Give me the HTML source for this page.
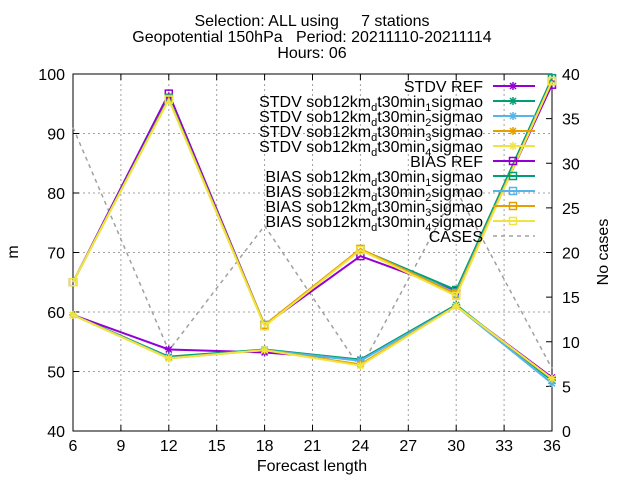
<!DOCTYPE html>
<html><head><meta charset="utf-8"><style>
body{margin:0;background:#fff}
svg{font-family:"Liberation Sans",sans-serif}
</style></head><body>
<svg id="chart" width="640" height="480" xmlns="http://www.w3.org/2000/svg">
<g font-size="16" text-anchor="middle" fill="#000">
<text x="312" y="26" xml:space="preserve">Selection: ALL using     7 stations</text>
<text x="312" y="42" xml:space="preserve">Geopotential 150hPa   Period: 20211110-20211114</text>
<text x="312" y="58">Hours: 06</text>
</g>
<g id="grid"></g>
<g id="axes"></g>
<g id="series"></g>
<g id="legend"></g>
<text x="18" y="252" font-size="16" text-anchor="middle" transform="rotate(-90 18 252)">m</text>
<text x="608" y="252" font-size="16" text-anchor="middle" transform="rotate(-90 608 252)">No cases</text>
<text x="312" y="471" font-size="16" text-anchor="middle">Forecast length</text>
</svg>
<script>
const xCats=[6,12,18,24,30,36];
const xTicks=[6,9,12,15,18,21,24,27,30,33,36];
const yTicks=[40,50,60,70,80,90,100];
const y2Ticks=[0,5,10,15,20,25,30,35,40];
const stdvRef=[59.5,53.7,53.2,52.0,61.0,49.0];
const stdv1=[59.5,52.5,53.7,52.0,61.2,48.5];
const stdv2=[59.5,52.3,53.6,51.8,61.0,48.0];
const stdv3=[59.5,52.2,53.6,51.2,61.0,48.8];
const stdv4=[59.5,52.2,53.6,51.0,61.0,48.8];
const biasRef=[65.0,96.7,57.8,69.4,63.5,98.2];
const bias1=[65.0,96.0,57.8,70.5,63.7,99.3];
const bias2=[65.0,95.8,57.8,70.5,63.2,98.8];
const bias3=[65.0,95.8,57.8,70.6,63.0,98.8];
const bias4=[65.0,95.7,57.6,70.4,62.7,98.8];
const cases=[34,9,23,7,27,7];
const labels=["STDV REF","STDV sob12km_d t30min_1 sigmao","STDV sob12km_d t30min_2 sigmao","STDV sob12km_d t30min_3 sigmao","STDV sob12km_d t30min_4 sigmao","BIAS REF","BIAS sob12km_d t30min_1 sigmao","BIAS sob12km_d t30min_2 sigmao","BIAS sob12km_d t30min_3 sigmao","BIAS sob12km_d t30min_4 sigmao"];
const colors=["#9400d3","#009e73","#56b4e9","#e69f00","#f0e442"];
const L=73,R=552,T=74,B=431;
const X=v=>L+(v-6)/30*(R-L);
const Y=v=>B-(v-40)/60*(B-T);
const Y2=v=>B-v/40*(B-T);
const NS="http://www.w3.org/2000/svg";
function mk(tag,attrs,parent){const e=document.createElementNS(NS,tag);for(const k in attrs)e.setAttribute(k,attrs[k]);parent.appendChild(e);return e;}
const grid=document.getElementById('grid'),axes=document.getElementById('axes'),ser=document.getElementById('series'),leg=document.getElementById('legend');
xTicks.forEach(t=>{const x=X(t);
 if(t!==6&&t!==36){const g=mk('line',{x1:x,x2:x,y1:T,y2:B,stroke:'#a0a0a0','stroke-dasharray':'2,3','stroke-width':1},grid);
 
 }
 const tx=mk('text',{x:x,y:B+20,'font-size':16,'text-anchor':'middle'},axes);tx.textContent=t;
 
 
 mk('line',{x1:x,x2:x,y1:B,y2:B-6,stroke:'#000'},axes);mk('line',{x1:x,x2:x,y1:T,y2:T+6,stroke:'#000'},axes);});
yTicks.forEach(t=>{const y=Y(t);
 if(t!==40&&t!==100){const g=mk('line',{x1:L,x2:R,y1:y,y2:y,stroke:'#a0a0a0','stroke-dasharray':'2,3'},grid);
 
 }
 const tx=mk('text',{x:L-8,y:y+6,'font-size':16,'text-anchor':'end'},axes);tx.textContent=t;
 
 
 mk('line',{x1:L,x2:L+6,y1:y,y2:y,stroke:'#000'},axes);});
y2Ticks.forEach(t=>{const y=Y2(t);
 const tx=mk('text',{x:R+10,y:y+6,'font-size':16,'text-anchor':'start'},axes);tx.textContent=t;
 
 
 mk('line',{x1:R,x2:R-6,y1:y,y2:y,stroke:'#000'},axes);});
const frame=mk('rect',{x:L,y:T,width:R-L,height:B-T,fill:'none',stroke:'#000'},axes);


function star(g,x,y,c){[[-4,0,4,0],[0,-4,0,4],[-3,-3,3,3],[-3,3,3,-3]].forEach(d=>mk('line',{x1:x+d[0],y1:y+d[1],x2:x+d[2],y2:y+d[3],stroke:c,'stroke-width':1.5},g));}
function sq(g,x,y,c){mk('rect',{x:x-3.5,y:y-3.5,width:7,height:7,fill:'none',stroke:c,'stroke-width':1.5},g);}
const cp=mk('polyline',{points:cases.map((v,i)=>X(xCats[i])+','+Y2(v)).join(' '),fill:'none',stroke:'#a0a0a0','stroke-width':1.5,'stroke-dasharray':'4,4'},ser);


const all=[stdvRef,stdv1,stdv2,stdv3,stdv4,biasRef,bias1,bias2,bias3,bias4];
all.forEach((s,k)=>{const c=colors[k%5];const g=mk('g',{},ser);
 
 
 mk('polyline',{points:s.map((v,i)=>X(xCats[i])+','+Y(v)).join(' '),fill:'none',stroke:c,'stroke-width':2},g);
 s.forEach((v,i)=>{k<5?star(g,X(xCats[i]),Y(v),c):sq(g,X(xCats[i]),Y(v),c);});});
for(let k=0;k<11;k++){const y=86+k*15;const g=mk('g',{},leg);
 
 
 const t=mk('text',{x:483,y:y+6,'font-size':16,'text-anchor':'end'},g);
 if(k<10){const p=labels[k].split(' ');
  if(p.length===2){t.textContent=labels[k];}else{
  t.appendChild(document.createTextNode(p[0]+' '+p[1].replace('_d','')));
  const s1=mk('tspan',{dy:4,'font-size':11},t);s1.textContent='d';
  const s2=mk('tspan',{dy:-4},t);s2.textContent=p[2].replace('_1','').replace('_2','').replace('_3','').replace('_4','');
  const s3=mk('tspan',{dy:4,'font-size':11},t);s3.textContent=p[2].slice(-1);
  const s4=mk('tspan',{dy:-4},t);s4.textContent=p[3];}
  const c=colors[k%5];mk('line',{x1:493,x2:535,y1:y,y2:y,stroke:c,'stroke-width':2},g);
  k<5?star(g,513,y,c):sq(g,513,y,c);
 }else{t.textContent='CASES';mk('line',{x1:493,x2:535,y1:y,y2:y,stroke:'#a0a0a0','stroke-width':1.5,'stroke-dasharray':'4,4'},g);}
}
</script>
</body></html>
